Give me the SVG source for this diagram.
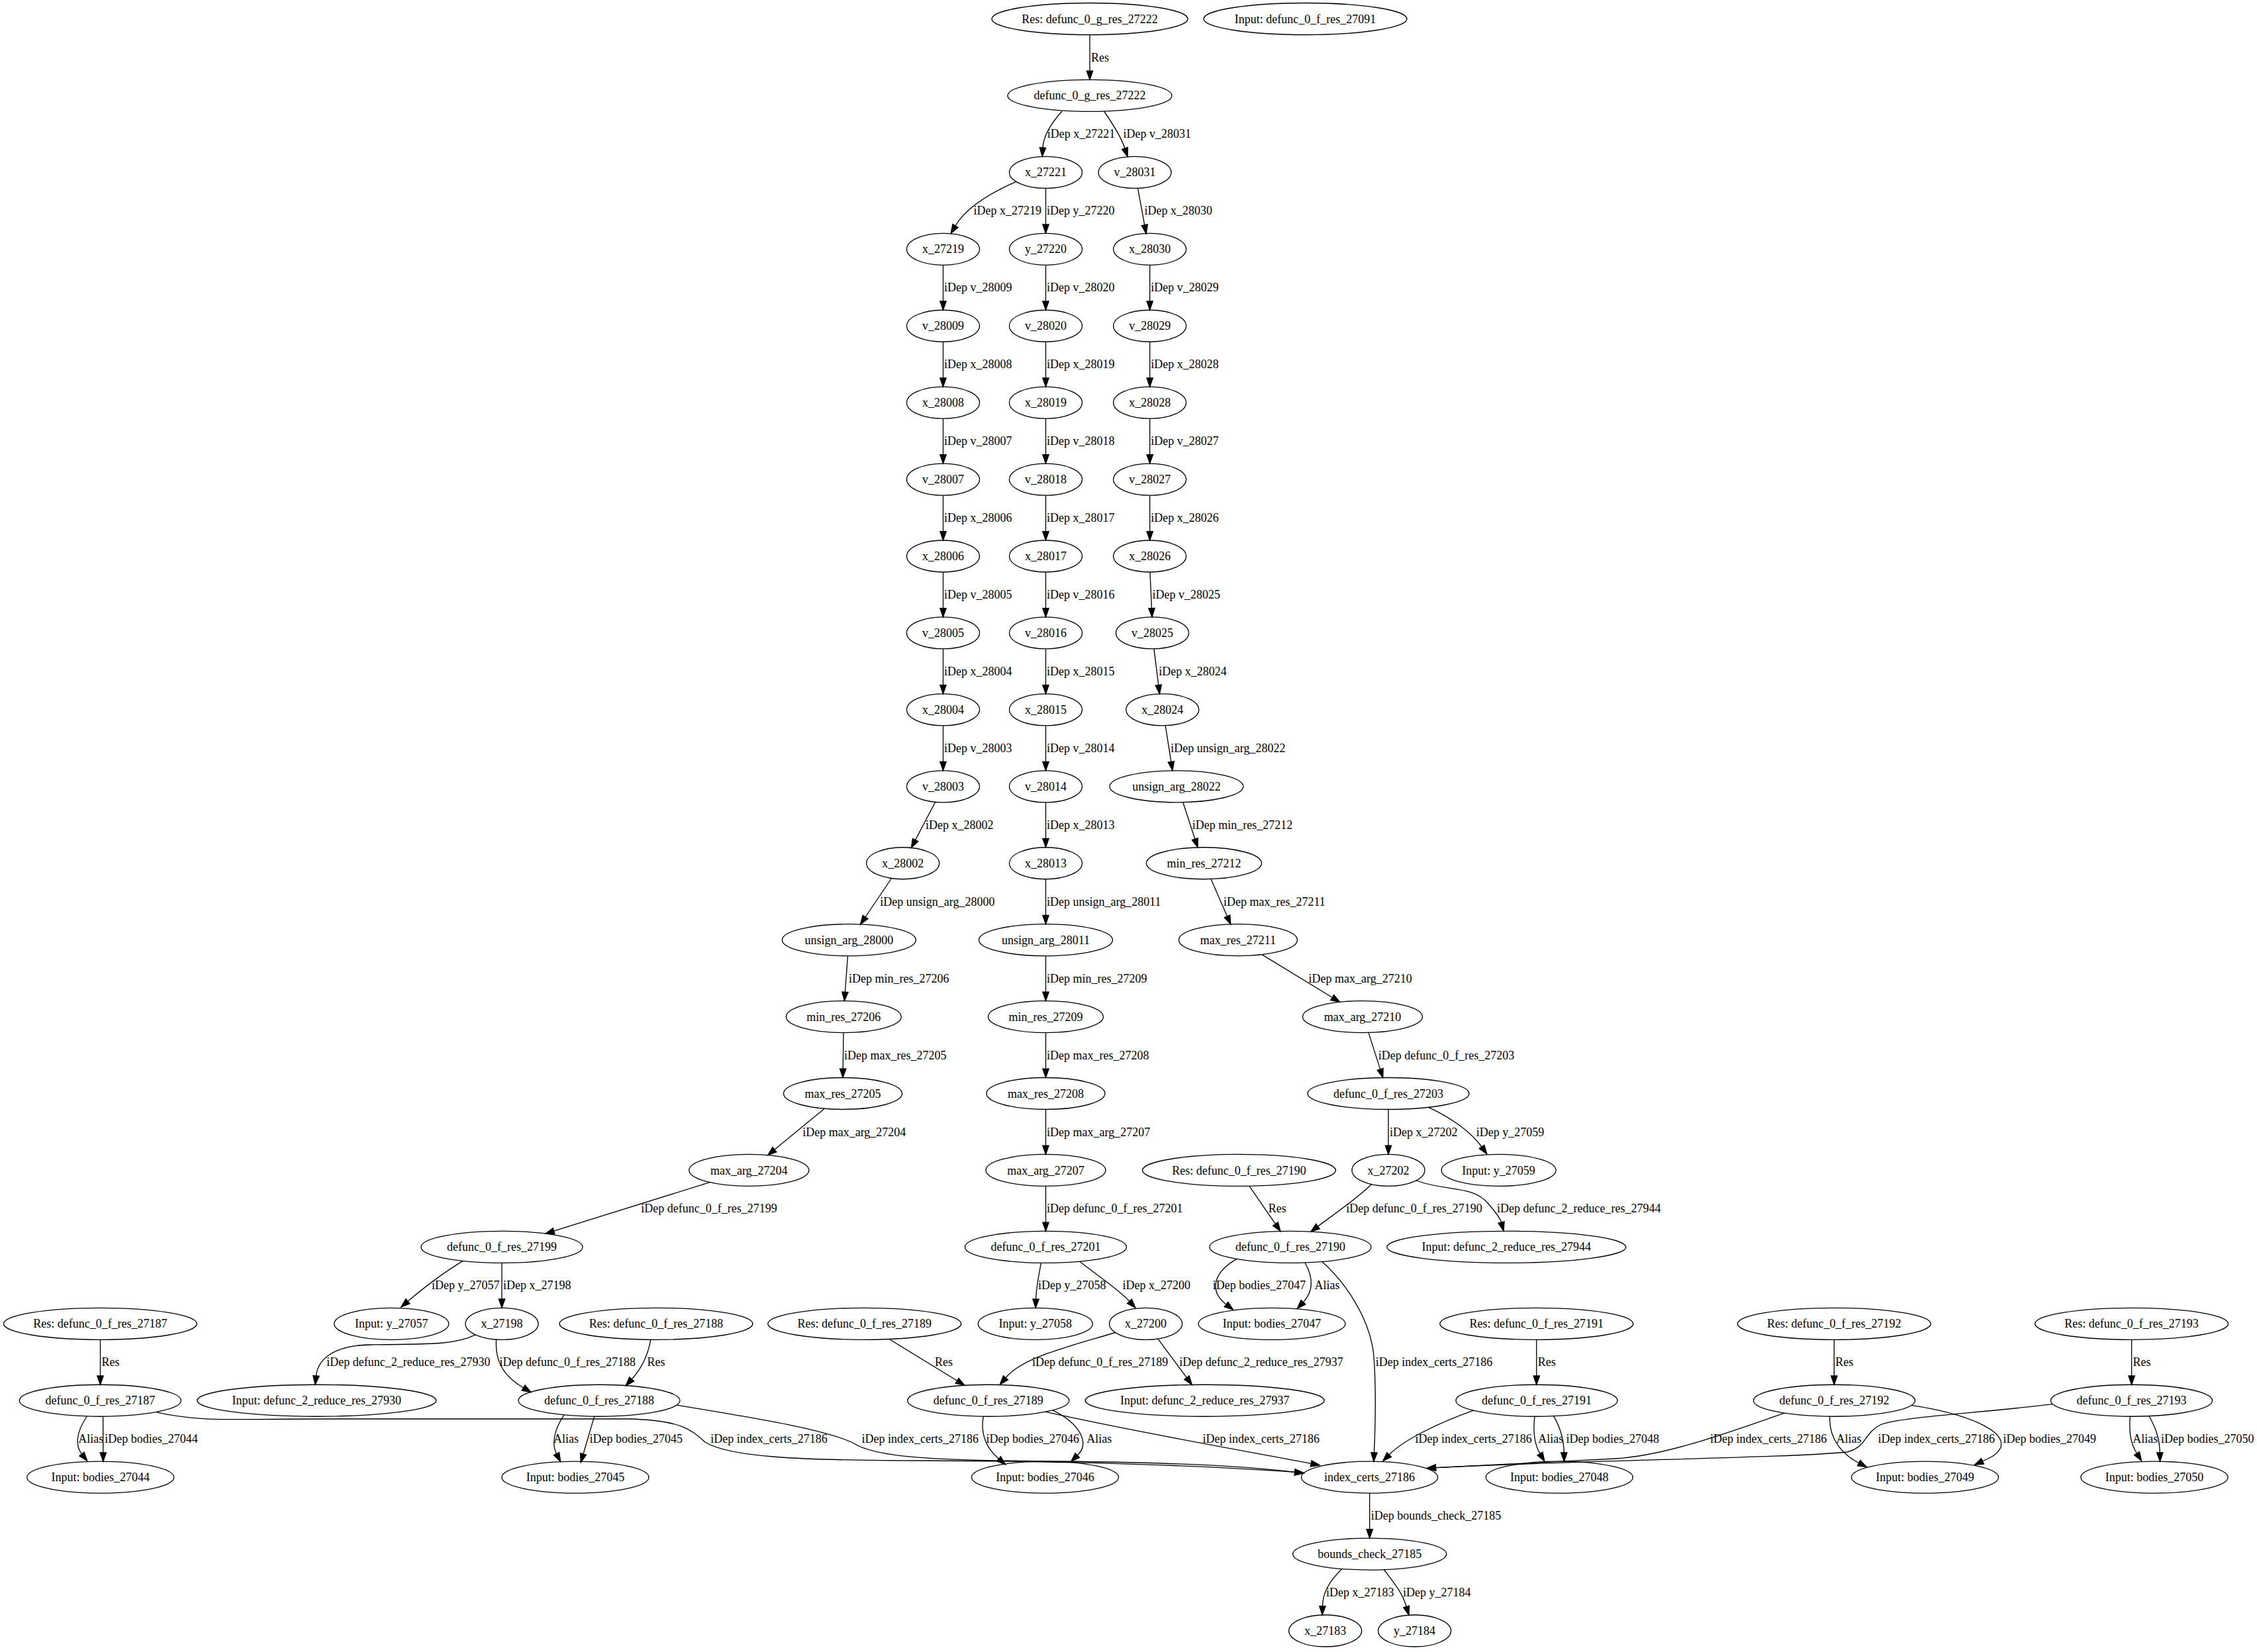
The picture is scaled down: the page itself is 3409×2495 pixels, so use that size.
<svg xmlns="http://www.w3.org/2000/svg" width="3409" height="2495" viewBox="0 0 3409 2495">
<style>
text{font-family:"Liberation Serif","Times New Roman",serif;font-size:18px;fill:#000}
.n ellipse{fill:none;stroke:#000;stroke-width:1.33}
.n text{text-anchor:middle}
.e path{fill:none;stroke:#000;stroke-width:1.33;marker-end:url(#ah)}
</style>
<defs>
<marker id="ah" viewBox="0 -5 14 10" refX="0" refY="0" markerWidth="14" markerHeight="10" markerUnits="userSpaceOnUse" orient="auto" overflow="visible"><path d="M0,-4.67 L13.33,0 L0,4.67 Z" fill="#000" stroke="#000" stroke-width="1.33"/></marker>
</defs>
<rect width="3409" height="2495" fill="#fff"/>
<g id="edges" class="e">
<path d="M1646,52.5 V107.1"/><text x="1648" y="92.5">Res</text>
<path d="M1604,168 C1588,186 1576,204 1575,223"/><text x="1581.8" y="208.4">iDep x_27221</text>
<path d="M1667.5,168 C1680,186 1693,206 1699,224"/><text x="1696.5" y="208.4">iDep v_28031</text>
<path d="M1535,274.3 C1490,294 1458,316 1443,341"/><text x="1470.6" y="324.3">iDep x_27219</text>
<path d="M1579.5,284.36 V338.96"/><text x="1581" y="324.3">iDep y_27220</text>
<path d="M1718.5,284.2 L1728.8,339.8"/><text x="1728.6" y="324.3">iDep x_28030</text>
<path d="M1424.5,400.29 V454.89"/><text x="1426" y="440.3">iDep v_28009</text>
<path d="M1424.5,516.22 V570.82"/><text x="1426" y="556.2">iDep x_28008</text>
<path d="M1424.5,632.15 V686.75"/><text x="1426" y="672.1">iDep v_28007</text>
<path d="M1424.5,748.08 V802.68"/><text x="1426" y="788">iDep x_28006</text>
<path d="M1424.5,864.01 V918.61"/><text x="1426" y="904">iDep v_28005</text>
<path d="M1424.5,979.94 V1034.54"/><text x="1426" y="1019.9">iDep x_28004</text>
<path d="M1424.5,1095.87 V1150.47"/><text x="1426" y="1135.8">iDep v_28003</text>
<path d="M1412.7,1211.2 L1382.6,1268.6"/><text x="1398.1" y="1251.8">iDep x_28002</text>
<path d="M1346.6,1326.5 L1307,1385"/><text x="1329.3" y="1367.7">iDep unsign_arg_28000</text>
<path d="M1280.5,1443.6 L1276.4,1498.3"/><text x="1282" y="1483.6">iDep min_res_27206</text>
<path d="M1274,1559.59 L1273.2,1614.19"/><text x="1275" y="1599.6">iDep max_res_27205</text>
<path d="M1245.3,1674.3 L1169.9,1736.2"/><text x="1212.2" y="1715.5">iDep max_arg_27204</text>
<path d="M1072.2,1785.6 L836.5,1859.2"/><text x="968.2" y="1831.4">iDep defunc_0_f_res_27199</text>
<path d="M699.2,1904.4 C670,1922 640,1945 616,1965.3"/><text x="652" y="1947.3">iDep y_27057</text>
<path d="M758,1907.38 V1961.98"/><text x="760" y="1947.3">iDep x_27198</text>
<path d="M718.2,2015.9 C690,2030 660,2030 560,2031 C500,2032 480,2055 477.5,2077.9"/><text x="493.2" y="2063.3">iDep defunc_2_reduce_res_27930</text>
<path d="M749.6,2023 C748,2050 755,2075 790.6,2096"/><text x="754.5" y="2063.3">iDep defunc_0_f_res_27188</text>
<path d="M1579.5,400.29 V454.89"/><text x="1581" y="440.3">iDep v_28020</text>
<path d="M1579.5,516.22 V570.82"/><text x="1581" y="556.2">iDep x_28019</text>
<path d="M1579.5,632.15 V686.75"/><text x="1581" y="672.1">iDep v_28018</text>
<path d="M1579.5,748.08 V802.68"/><text x="1581" y="788">iDep x_28017</text>
<path d="M1579.5,864.01 V918.61"/><text x="1581" y="904">iDep v_28016</text>
<path d="M1579.5,979.94 V1034.54"/><text x="1581" y="1019.9">iDep x_28015</text>
<path d="M1579.5,1095.87 V1150.47"/><text x="1581" y="1135.8">iDep v_28014</text>
<path d="M1579.5,1211.8 V1266.4"/><text x="1581" y="1251.8">iDep x_28013</text>
<path d="M1579.5,1327.73 V1382.33"/><text x="1581" y="1367.7">iDep unsign_arg_28011</text>
<path d="M1579.5,1443.66 V1498.26"/><text x="1581" y="1483.6">iDep min_res_27209</text>
<path d="M1579.5,1559.59 V1614.19"/><text x="1581" y="1599.6">iDep max_res_27208</text>
<path d="M1579.5,1675.52 V1730.12"/><text x="1581" y="1715.5">iDep max_arg_27207</text>
<path d="M1579.5,1791.45 V1846.05"/><text x="1581" y="1831.4">iDep defunc_0_f_res_27201</text>
<path d="M1572.5,1907.3 C1568,1930 1565,1950 1564.6,1962"/><text x="1568.1" y="1947.3">iDep y_27058</text>
<path d="M1630.5,1905.1 C1665,1932 1690,1948 1706,1965.4"/><text x="1695.5" y="1947.3">iDep x_27200</text>
<path d="M1684.7,2012.5 C1610,2035 1545,2050 1519,2080.8"/><text x="1558.9" y="2063.3">iDep defunc_0_f_res_27189</text>
<path d="M1748.8,2021.9 L1792.4,2080.6"/><text x="1781.3" y="2063.3">iDep defunc_2_reduce_res_27937</text>
<path d="M1736.7,400.29 V454.89"/><text x="1738.2" y="440.3">iDep v_28029</text>
<path d="M1736.7,516.22 V570.82"/><text x="1738.2" y="556.2">iDep x_28028</text>
<path d="M1736.7,632.15 V686.75"/><text x="1738.2" y="672.1">iDep v_28027</text>
<path d="M1736.7,748.08 V802.68"/><text x="1738.2" y="788">iDep x_28026</text>
<path d="M1737,864 L1739.5,918.6"/><text x="1740.5" y="904">iDep v_28025</text>
<path d="M1743,979.9 L1749.8,1034.7"/><text x="1750.3" y="1019.9">iDep x_28024</text>
<path d="M1760.2,1095.6 L1768.9,1150.6"/><text x="1768.3" y="1135.8">iDep unsign_arg_28022</text>
<path d="M1786.7,1211.5 L1804.9,1267.2"/><text x="1800.8" y="1251.8">iDep min_res_27212</text>
<path d="M1829,1327.5 L1853.5,1383.8"/><text x="1848" y="1367.7">iDep max_res_27211</text>
<path d="M1906,1441.6 L2012.3,1506.5"/><text x="1976.6" y="1483.6">iDep max_arg_27210</text>
<path d="M2067,1559.4 L2084.7,1614.9"/><text x="2081.7" y="1599.6">iDep defunc_0_f_res_27203</text>
<path d="M2097,1675.52 V1730.12"/><text x="2099" y="1715.5">iDep x_27202</text>
<path d="M2157.6,1672.3 C2192,1688 2222,1710 2238,1732"/><text x="2229.7" y="1715.5">iDep y_27059</text>
<path d="M2071.3,1788.7 C2050,1810 2012,1836 1990.5,1852.2"/><text x="2033.3" y="1831.4">iDep defunc_0_f_res_27190</text>
<path d="M2139,1783 C2185,1800 2225,1790 2248,1818 C2260,1832 2266,1840 2267.6,1846.1"/><text x="2261" y="1831.4">iDep defunc_2_reduce_res_27944</text>
<path d="M1887,1791.3 L1926.5,1848.6"/><text x="1915.7" y="1831.4">Res</text>
<path d="M1868,1901.3 C1832,1922 1826,1950 1852,1970"/><text x="1831.7" y="1947.3">iDep bodies_27047</text>
<path d="M1971,1907 C1984,1930 1984,1950 1968.5,1966.6"/><text x="1985.6" y="1947.3">Alias</text>
<path d="M1997,1905.5 C2030,1935 2070,1990 2075,2048 C2079,2100 2077,2160 2075.5,2194"/><text x="2077.8" y="2063.3">iDep index_certs_27186</text>
<path d="M151.5,2023.31 V2077.91"/><text x="153.5" y="2063.3">Res</text>
<path d="M131.2,2139 C114,2165 114,2184 123.5,2196"/><text x="118.2" y="2179.2">Alias</text>
<path d="M155.6,2139.2 L155.8,2193.9"/><text x="158.3" y="2179.2">iDep bodies_27044</text>
<path d="M235.8,2132.6 C300,2148 350,2143 500,2143 L950,2143 C1030,2145 1045,2160 1065,2178 C1100,2200 1200,2206 1400,2206 C1600,2207 1800,2212 1955.8,2223.4"/><text x="1073.3" y="2179.2">iDep index_certs_27186</text>
<path d="M982.8,2023.3 C978,2050 968,2068 954.2,2083"/><text x="977.4" y="2063.3">Res</text>
<path d="M852,2136.9 C835,2162 834,2183 840.5,2195.6"/><text x="836" y="2179.2">Alias</text>
<path d="M897.7,2139.1 L881,2196"/><text x="890.6" y="2179.2">iDep bodies_27045</text>
<path d="M1021.8,2122.2 C1150,2143 1250,2160 1290,2180 C1320,2200 1400,2206 1600,2207 C1800,2209 1900,2216 1955.8,2223.4"/><text x="1301.5" y="2179.2">iDep index_certs_27186</text>
<path d="M1343.2,2022.5 L1445.6,2085.3"/><text x="1412" y="2063.3">Res</text>
<path d="M1485.2,2139.2 C1480,2170 1493,2190 1508.5,2203.3"/><text x="1489.6" y="2179.2">iDep bodies_27046</text>
<path d="M1589.8,2129.8 C1628,2148 1648,2178 1627.3,2198"/><text x="1641.3" y="2179.2">Alias</text>
<path d="M1579,2132.2 C1700,2160 1900,2195 1980.3,2210.3"/><text x="1816.5" y="2179.2">iDep index_certs_27186</text>
<path d="M2320.8,2023.31 V2077.91"/><text x="2322.8" y="2063.3">Res</text>
<path d="M2225.7,2130.2 C2170,2150 2120,2175 2098.2,2197"/><text x="2137.4" y="2179.2">iDep index_certs_27186</text>
<path d="M2318,2139.2 C2315,2165 2318,2182 2326,2195.4"/><text x="2323.3" y="2179.2">Alias</text>
<path d="M2346.6,2138.6 C2358,2158 2362,2175 2362.3,2193.9"/><text x="2365.6" y="2179.2">iDep bodies_27048</text>
<path d="M2770.3,2023.31 V2077.91"/><text x="2772.3" y="2063.3">Res</text>
<path d="M2695.2,2134.1 C2620,2160 2520,2198 2440,2203 C2350,2208 2250,2212 2168.5,2216.7"/><text x="2582.9" y="2179.2">iDep index_certs_27186</text>
<path d="M2763.7,2139.2 C2762,2175 2785,2198 2807.6,2209.5"/><text x="2773.6" y="2179.2">Alias</text>
<path d="M2887,2122.4 C2970,2135 3030,2160 3022,2186 C3016,2198 3005,2202 2994.5,2206.8"/><text x="3025.6" y="2179.2">iDep bodies_27049</text>
<path d="M3219.6,2023.31 V2077.91"/><text x="3221.6" y="2063.3">Res</text>
<path d="M3100.7,2120.7 C2980,2135 2870,2140 2840,2152 C2815,2165 2820,2185 2790,2193 C2700,2202 2400,2205 2168.5,2216.7"/><text x="2836.6" y="2179.2">iDep index_certs_27186</text>
<path d="M3217.4,2139.2 C3215,2168 3220,2183 3227.5,2195"/><text x="3221.2" y="2179.2">Alias</text>
<path d="M3245.9,2138.5 C3258,2160 3262,2176 3262.3,2193.9"/><text x="3264" y="2179.2">iDep bodies_27050</text>
<path d="M2068.7,2255.17 V2309.77"/><text x="2070.7" y="2295.1">iDep bounds_check_27185</text>
<path d="M2026.8,2369.5 C2008,2388 1998,2405 1997.5,2425.7"/><text x="2003" y="2411.1">iDep x_27183</text>
<path d="M2090.3,2370.5 C2105,2390 2118,2405 2124.2,2426.5"/><text x="2119" y="2411.1">iDep y_27184</text>
</g>
<g id="nodes">
<g id="res_defunc_0_g_res_27222" class="n"><ellipse cx="1646" cy="28.5" rx="148" ry="24"/><text x="1646" y="34.5">Res: defunc_0_g_res_27222</text></g>
<g id="input_defunc_0_f_res_27091" class="n"><ellipse cx="1971.5" cy="28.5" rx="153.5" ry="24"/><text x="1971.5" y="34.5">Input: defunc_0_f_res_27091</text></g>
<g id="defunc_0_g_res_27222" class="n"><ellipse cx="1646" cy="144.43" rx="124" ry="24"/><text x="1646" y="150.4">defunc_0_g_res_27222</text></g>
<g id="x_27221" class="n"><ellipse cx="1579.5" cy="260.36" rx="55" ry="24"/><text x="1579.5" y="266.4">x_27221</text></g>
<g id="v_28031" class="n"><ellipse cx="1714" cy="260.36" rx="55" ry="24"/><text x="1714" y="266.4">v_28031</text></g>
<g id="x_27219" class="n"><ellipse cx="1424.5" cy="376.29" rx="55" ry="24"/><text x="1424.5" y="382.3">x_27219</text></g>
<g id="y_27220" class="n"><ellipse cx="1579.5" cy="376.29" rx="55" ry="24"/><text x="1579.5" y="382.3">y_27220</text></g>
<g id="x_28030" class="n"><ellipse cx="1736.7" cy="376.29" rx="55" ry="24"/><text x="1736.7" y="382.3">x_28030</text></g>
<g id="v_28009" class="n"><ellipse cx="1424.5" cy="492.22" rx="55" ry="24"/><text x="1424.5" y="498.2">v_28009</text></g>
<g id="v_28020" class="n"><ellipse cx="1579.5" cy="492.22" rx="55" ry="24"/><text x="1579.5" y="498.2">v_28020</text></g>
<g id="v_28029" class="n"><ellipse cx="1736.7" cy="492.22" rx="55" ry="24"/><text x="1736.7" y="498.2">v_28029</text></g>
<g id="x_28008" class="n"><ellipse cx="1424.5" cy="608.15" rx="55" ry="24"/><text x="1424.5" y="614.2">x_28008</text></g>
<g id="x_28019" class="n"><ellipse cx="1579.5" cy="608.15" rx="55" ry="24"/><text x="1579.5" y="614.2">x_28019</text></g>
<g id="x_28028" class="n"><ellipse cx="1736.7" cy="608.15" rx="55" ry="24"/><text x="1736.7" y="614.2">x_28028</text></g>
<g id="v_28007" class="n"><ellipse cx="1424.5" cy="724.08" rx="55" ry="24"/><text x="1424.5" y="730.1">v_28007</text></g>
<g id="v_28018" class="n"><ellipse cx="1579.5" cy="724.08" rx="55" ry="24"/><text x="1579.5" y="730.1">v_28018</text></g>
<g id="v_28027" class="n"><ellipse cx="1736.7" cy="724.08" rx="55" ry="24"/><text x="1736.7" y="730.1">v_28027</text></g>
<g id="x_28006" class="n"><ellipse cx="1424.5" cy="840.01" rx="55" ry="24"/><text x="1424.5" y="846">x_28006</text></g>
<g id="x_28017" class="n"><ellipse cx="1579.5" cy="840.01" rx="55" ry="24"/><text x="1579.5" y="846">x_28017</text></g>
<g id="x_28026" class="n"><ellipse cx="1736.7" cy="840.01" rx="55" ry="24"/><text x="1736.7" y="846">x_28026</text></g>
<g id="v_28005" class="n"><ellipse cx="1424.5" cy="955.94" rx="55" ry="24"/><text x="1424.5" y="961.9">v_28005</text></g>
<g id="v_28016" class="n"><ellipse cx="1579.5" cy="955.94" rx="55" ry="24"/><text x="1579.5" y="961.9">v_28016</text></g>
<g id="v_28025" class="n"><ellipse cx="1740.5" cy="955.94" rx="55" ry="24"/><text x="1740.5" y="961.9">v_28025</text></g>
<g id="x_28004" class="n"><ellipse cx="1424.5" cy="1071.87" rx="55" ry="24"/><text x="1424.5" y="1077.9">x_28004</text></g>
<g id="x_28015" class="n"><ellipse cx="1579.5" cy="1071.87" rx="55" ry="24"/><text x="1579.5" y="1077.9">x_28015</text></g>
<g id="x_28024" class="n"><ellipse cx="1755.8" cy="1071.87" rx="55" ry="24"/><text x="1755.8" y="1077.9">x_28024</text></g>
<g id="v_28003" class="n"><ellipse cx="1424.5" cy="1187.8" rx="55" ry="24"/><text x="1424.5" y="1193.8">v_28003</text></g>
<g id="v_28014" class="n"><ellipse cx="1579.5" cy="1187.8" rx="55" ry="24"/><text x="1579.5" y="1193.8">v_28014</text></g>
<g id="unsign_arg_28022" class="n"><ellipse cx="1777" cy="1187.8" rx="101" ry="24"/><text x="1777" y="1193.8">unsign_arg_28022</text></g>
<g id="x_28002" class="n"><ellipse cx="1363.7" cy="1303.73" rx="55" ry="24"/><text x="1363.7" y="1309.7">x_28002</text></g>
<g id="x_28013" class="n"><ellipse cx="1579.5" cy="1303.73" rx="55" ry="24"/><text x="1579.5" y="1309.7">x_28013</text></g>
<g id="min_res_27212" class="n"><ellipse cx="1818.5" cy="1303.73" rx="87" ry="24"/><text x="1818.5" y="1309.7">min_res_27212</text></g>
<g id="unsign_arg_28000" class="n"><ellipse cx="1282.4" cy="1419.66" rx="101" ry="24"/><text x="1282.4" y="1425.7">unsign_arg_28000</text></g>
<g id="unsign_arg_28011" class="n"><ellipse cx="1579.5" cy="1419.66" rx="101" ry="24"/><text x="1579.5" y="1425.7">unsign_arg_28011</text></g>
<g id="max_res_27211" class="n"><ellipse cx="1870" cy="1419.66" rx="89.5" ry="24"/><text x="1870" y="1425.7">max_res_27211</text></g>
<g id="min_res_27206" class="n"><ellipse cx="1274.3" cy="1535.59" rx="87" ry="24"/><text x="1274.3" y="1541.6">min_res_27206</text></g>
<g id="min_res_27209" class="n"><ellipse cx="1579.5" cy="1535.59" rx="87" ry="24"/><text x="1579.5" y="1541.6">min_res_27209</text></g>
<g id="max_arg_27210" class="n"><ellipse cx="2058" cy="1535.59" rx="90.5" ry="24"/><text x="2058" y="1541.6">max_arg_27210</text></g>
<g id="max_res_27205" class="n"><ellipse cx="1273" cy="1651.52" rx="89.5" ry="24"/><text x="1273" y="1657.5">max_res_27205</text></g>
<g id="max_res_27208" class="n"><ellipse cx="1579.5" cy="1651.52" rx="89.5" ry="24"/><text x="1579.5" y="1657.5">max_res_27208</text></g>
<g id="defunc_0_f_res_27203" class="n"><ellipse cx="2097" cy="1651.52" rx="122" ry="24"/><text x="2097" y="1657.5">defunc_0_f_res_27203</text></g>
<g id="max_arg_27204" class="n"><ellipse cx="1131.3" cy="1767.45" rx="90.5" ry="24"/><text x="1131.3" y="1773.5">max_arg_27204</text></g>
<g id="max_arg_27207" class="n"><ellipse cx="1579.5" cy="1767.45" rx="90.5" ry="24"/><text x="1579.5" y="1773.5">max_arg_27207</text></g>
<g id="res_defunc_0_f_res_27190" class="n"><ellipse cx="1871.5" cy="1767.45" rx="146" ry="24"/><text x="1871.5" y="1773.5">Res: defunc_0_f_res_27190</text></g>
<g id="x_27202" class="n"><ellipse cx="2097" cy="1767.45" rx="55" ry="24"/><text x="2097" y="1773.5">x_27202</text></g>
<g id="input_y_27059" class="n"><ellipse cx="2263.6" cy="1767.45" rx="86.5" ry="24"/><text x="2263.6" y="1773.5">Input: y_27059</text></g>
<g id="defunc_0_f_res_27199" class="n"><ellipse cx="758" cy="1883.38" rx="122" ry="24"/><text x="758" y="1889.4">defunc_0_f_res_27199</text></g>
<g id="defunc_0_f_res_27201" class="n"><ellipse cx="1579.5" cy="1883.38" rx="122" ry="24"/><text x="1579.5" y="1889.4">defunc_0_f_res_27201</text></g>
<g id="defunc_0_f_res_27190" class="n"><ellipse cx="1949" cy="1883.38" rx="122" ry="24"/><text x="1949" y="1889.4">defunc_0_f_res_27190</text></g>
<g id="input_defunc_2_reduce_res_27944" class="n"><ellipse cx="2275.3" cy="1883.38" rx="180.5" ry="24"/><text x="2275.3" y="1889.4">Input: defunc_2_reduce_res_27944</text></g>
<g id="res_defunc_0_f_res_27187" class="n"><ellipse cx="151.4" cy="1999.31" rx="146" ry="24"/><text x="151.4" y="2005.3">Res: defunc_0_f_res_27187</text></g>
<g id="input_y_27057" class="n"><ellipse cx="591.3" cy="1999.31" rx="86.5" ry="24"/><text x="591.3" y="2005.3">Input: y_27057</text></g>
<g id="x_27198" class="n"><ellipse cx="758" cy="1999.31" rx="55" ry="24"/><text x="758" y="2005.3">x_27198</text></g>
<g id="res_defunc_0_f_res_27188" class="n"><ellipse cx="991" cy="1999.31" rx="146" ry="24"/><text x="991" y="2005.3">Res: defunc_0_f_res_27188</text></g>
<g id="res_defunc_0_f_res_27189" class="n"><ellipse cx="1305.8" cy="1999.31" rx="146" ry="24"/><text x="1305.8" y="2005.3">Res: defunc_0_f_res_27189</text></g>
<g id="input_y_27058" class="n"><ellipse cx="1563.8" cy="1999.31" rx="86.5" ry="24"/><text x="1563.8" y="2005.3">Input: y_27058</text></g>
<g id="x_27200" class="n"><ellipse cx="1730.6" cy="1999.31" rx="55" ry="24"/><text x="1730.6" y="2005.3">x_27200</text></g>
<g id="input_bodies_27047" class="n"><ellipse cx="1921" cy="1999.31" rx="111" ry="24"/><text x="1921" y="2005.3">Input: bodies_27047</text></g>
<g id="res_defunc_0_f_res_27191" class="n"><ellipse cx="2320.8" cy="1999.31" rx="146" ry="24"/><text x="2320.8" y="2005.3">Res: defunc_0_f_res_27191</text></g>
<g id="res_defunc_0_f_res_27192" class="n"><ellipse cx="2770.3" cy="1999.31" rx="146" ry="24"/><text x="2770.3" y="2005.3">Res: defunc_0_f_res_27192</text></g>
<g id="res_defunc_0_f_res_27193" class="n"><ellipse cx="3219.6" cy="1999.31" rx="146" ry="24"/><text x="3219.6" y="2005.3">Res: defunc_0_f_res_27193</text></g>
<g id="defunc_0_f_res_27187" class="n"><ellipse cx="151.4" cy="2115.24" rx="122" ry="24"/><text x="151.4" y="2121.2">defunc_0_f_res_27187</text></g>
<g id="input_defunc_2_reduce_res_27930" class="n"><ellipse cx="478.3" cy="2115.24" rx="180.5" ry="24"/><text x="478.3" y="2121.2">Input: defunc_2_reduce_res_27930</text></g>
<g id="defunc_0_f_res_27188" class="n"><ellipse cx="905" cy="2115.24" rx="122" ry="24"/><text x="905" y="2121.2">defunc_0_f_res_27188</text></g>
<g id="defunc_0_f_res_27189" class="n"><ellipse cx="1492.8" cy="2115.24" rx="122" ry="24"/><text x="1492.8" y="2121.2">defunc_0_f_res_27189</text></g>
<g id="input_defunc_2_reduce_res_27937" class="n"><ellipse cx="1819.7" cy="2115.24" rx="180.5" ry="24"/><text x="1819.7" y="2121.2">Input: defunc_2_reduce_res_27937</text></g>
<g id="defunc_0_f_res_27191" class="n"><ellipse cx="2321" cy="2115.24" rx="122" ry="24"/><text x="2321" y="2121.2">defunc_0_f_res_27191</text></g>
<g id="defunc_0_f_res_27192" class="n"><ellipse cx="2770.5" cy="2115.24" rx="122" ry="24"/><text x="2770.5" y="2121.2">defunc_0_f_res_27192</text></g>
<g id="defunc_0_f_res_27193" class="n"><ellipse cx="3219.5" cy="2115.24" rx="122" ry="24"/><text x="3219.5" y="2121.2">defunc_0_f_res_27193</text></g>
<g id="input_bodies_27044" class="n"><ellipse cx="151.8" cy="2231.17" rx="111" ry="24"/><text x="151.8" y="2237.2">Input: bodies_27044</text></g>
<g id="input_bodies_27045" class="n"><ellipse cx="869" cy="2231.17" rx="111" ry="24"/><text x="869" y="2237.2">Input: bodies_27045</text></g>
<g id="input_bodies_27046" class="n"><ellipse cx="1578.5" cy="2231.17" rx="111" ry="24"/><text x="1578.5" y="2237.2">Input: bodies_27046</text></g>
<g id="index_certs_27186" class="n"><ellipse cx="2068.6" cy="2231.17" rx="103" ry="24"/><text x="2068.6" y="2237.2">index_certs_27186</text></g>
<g id="input_bodies_27048" class="n"><ellipse cx="2355.3" cy="2231.17" rx="111" ry="24"/><text x="2355.3" y="2237.2">Input: bodies_27048</text></g>
<g id="input_bodies_27049" class="n"><ellipse cx="2907.5" cy="2231.17" rx="111" ry="24"/><text x="2907.5" y="2237.2">Input: bodies_27049</text></g>
<g id="input_bodies_27050" class="n"><ellipse cx="3254" cy="2231.17" rx="111" ry="24"/><text x="3254" y="2237.2">Input: bodies_27050</text></g>
<g id="bounds_check_27185" class="n"><ellipse cx="2068.7" cy="2347.1" rx="116" ry="24"/><text x="2068.7" y="2353.1">bounds_check_27185</text></g>
<g id="x_27183" class="n"><ellipse cx="2001.7" cy="2463.03" rx="55" ry="24"/><text x="2001.7" y="2469">x_27183</text></g>
<g id="y_27184" class="n"><ellipse cx="2136.6" cy="2463.03" rx="55" ry="24"/><text x="2136.6" y="2469">y_27184</text></g>
</g>
</svg>
